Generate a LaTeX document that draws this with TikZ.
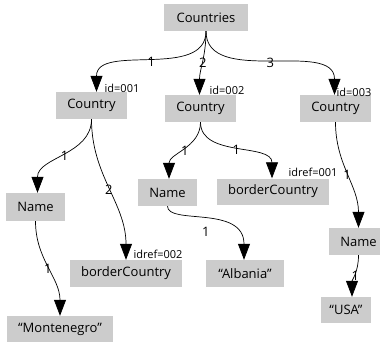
\documentclass[tikz,border=0pt]{standalone}
\usepackage{fontspec}
\setmainfont{Open Sans}
\usetikzlibrary{arrows.meta}
\begin{document}
\begin{tikzpicture}[x=1pt,y=-1pt,
  box/.style={fill=boxgray,text=black,font=\fontsize{13}{15}\selectfont,inner sep=0pt,minimum height=27pt},
  edge/.style={draw=black,line width=0.7pt,-{Triangle[length=16pt,width=12pt]}},
  elab/.style={font=\fontsize{13}{15}\selectfont,inner sep=0pt},
  note/.style={font=\fontsize{11}{13}\selectfont,inner sep=0pt}]
\definecolor{boxgray}{HTML}{CCCCCC}
\useasboundingbox (0,0) rectangle (380,342);
% nodes
\node[box,minimum width=84pt] (countries) at (206,17.5) {Countries};
\node[box,minimum width=71pt] (c1) at (91.5,105.5) {Country};
\node[box,minimum width=71pt] (c2) at (200.5,108.5) {Country};
\node[box,minimum width=71pt] (c3) at (335.5,108.5) {Country};
\node[box,minimum width=59pt,minimum height=28pt] (n1) at (35.5,207) {Name};
\node[box,minimum width=112pt] (bc1) at (126,273.5) {borderCountry};
\node[box,minimum width=59pt] (n2) at (167.5,192.5) {Name};
\node[box,minimum width=112pt,minimum height=26pt] (bc2) at (273,191.5) {borderCountry};
\node[box,minimum width=78pt] (alb) at (245,273.5) {“Albania”};
\node[box,minimum width=106pt,minimum height=26pt] (mont) at (60,329) {“Montenegro”};
\node[box,minimum width=59pt] (n3) at (358.5,241.5) {Name};
\node[box,minimum width=50pt,minimum height=26pt] (usa) at (346,310) {“USA”};
% notes
\node[note] (id1) at (122,88) {id=001};
\node[note] (id2) at (227,90) {id=002};
\node[note] (id3) at (354,92) {id=003};
\node[note] (idr1) at (313,172) {idref=001};
\node[note] (idr2) at (158,254) {idref=002};
% edges
\draw[edge] (countries.south) to[out=-90,in=90] node[elab] {1} ([xshift=5pt]c1.north);
\draw[edge] (countries.south) to[out=-90,in=90] node[elab] {2} ([xshift=-1pt]c2.north);
\draw[edge] (countries.south) to[out=-90,in=90] node[elab] {3} ([xshift=-1pt]c3.north);
\draw[edge] (c1.south) to[out=-90,in=90] node[elab] {1} ([xshift=2pt]n1.north);
\draw[edge] (c1.south) to[out=-90,in=90] node[elab] {2} (bc1.north);
\draw[edge] (c2.south) to[out=-90,in=90] node[elab] {1} ([xshift=1.5pt]n2.north);
\draw[edge] (c2.south) to[out=-90,in=90] node[elab] {1} ([xshift=-1pt]bc2.north);
\draw[edge] (n1.south) to[out=-90,in=90] node[elab] {1} (mont.north);
\draw[edge] (n2.south) .. controls +(0,19) and +(0,-55) .. node[elab,yshift=-12pt] {1} ([xshift=-1pt]alb.north);
\draw[edge] (c3.south) to[out=-90,in=90] node[elab] {1} (n3.north);
\draw[edge] (n3.south) to[out=-90,in=90] node[elab] {1} ([xshift=6pt]usa.north);
\end{tikzpicture}
\end{document}
